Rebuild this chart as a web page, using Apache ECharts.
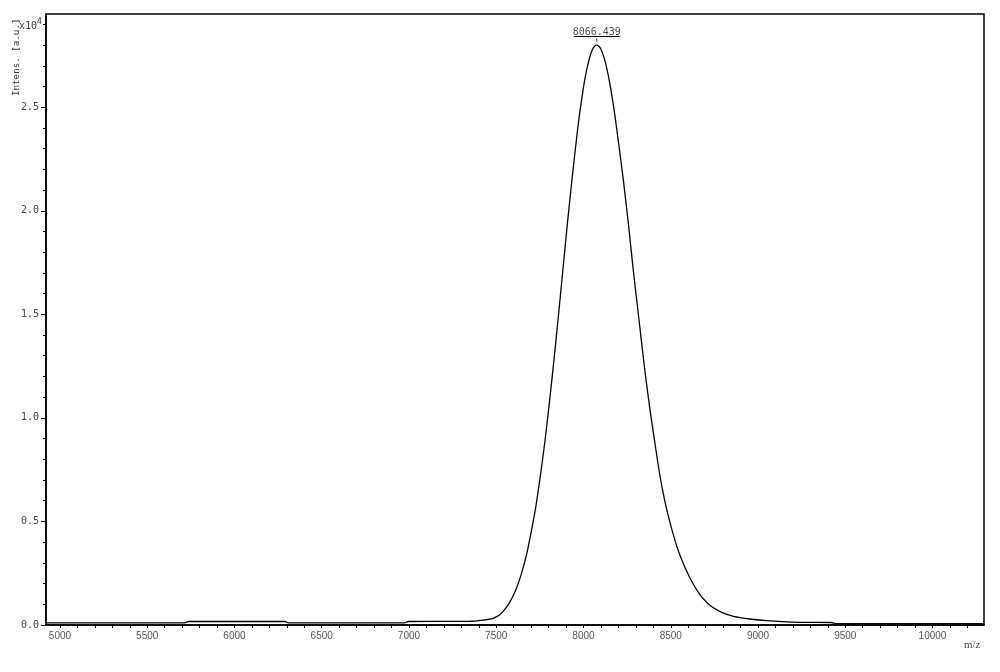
<!DOCTYPE html>
<html>
<head>
<meta charset="utf-8">
<script src="https://cdn.jsdelivr.net/npm/echarts@6/dist/echarts.min.js"></script>
<style>
html,body{margin:0;padding:0;background:#fff;}
#chart{width:1000px;height:672px;}
</style>
</head>
<body>
<div id="chart"></div>
<script>
// ---- data (m/z in Da, intensity in units of 10^4 a.u.) ----
const mz = [4920, 5715, 5735, 6290, 6310, 6975, 6995, 7350, 7424, 7471, 7492, 7520, 7548, 7576, 7603, 7624, 7651, 7680,
  7724, 7752, 7778, 7800, 7825, 7854, 7882, 7907, 7934, 7966, 7983, 8007, 8029, 8052, 8076,
  8100, 8124, 8147, 8173, 8191, 8228, 8258, 8285, 8318, 8351, 8381, 8409, 8439, 8477, 8528, 8570, 8606, 8641, 8675,
  8711, 8744, 8795, 8859, 8954, 9050, 9140, 9241, 9420, 9445, 10295];
const intensity = [0.010, 0.010, 0.017, 0.017, 0.010, 0.010, 0.017, 0.018, 0.024, 0.030, 0.036, 0.050, 0.074, 0.108, 0.152, 0.195, 0.267, 0.364,
  0.557, 0.716, 0.880, 1.040, 1.233, 1.474, 1.715, 1.932, 2.150, 2.391, 2.500, 2.632, 2.720, 2.780, 2.800,
  2.780, 2.720, 2.632, 2.500, 2.391, 2.150, 1.932, 1.715, 1.474, 1.233, 1.040, 0.880, 0.716, 0.557, 0.398, 0.300, 0.234, 0.180, 0.138,
  0.105, 0.083, 0.060, 0.042, 0.029, 0.021, 0.016, 0.013, 0.012, 0.007, 0.007];
const peakLabel = '8066.439';
const peakMz = 8076;
const peakIntensity = 2.80;

const xRange = [4920, 10295];
const yRange = [0, 2.95];
const xLabelValues = [5000, 5500, 6000, 6500, 7000, 7500, 8000, 8500, 9000, 9500, 10000];
const yLabelValues = [0, 0.5, 1.0, 1.5, 2.0, 2.5];
const xTickStep = 100;
const yMinorStep = 0.1;

// ---- derived tick positions ----
const xTickValues = [];
for (let v = 5000; v <= xRange[1]; v += xTickStep) xTickValues.push(v);
const yMinorValues = [];
for (let i = 0; i * yMinorStep <= yRange[1] + 1e-9; i++) yMinorValues.push(Math.round(i * yMinorStep * 10) / 10);

const spectrum = mz.map((m, i) => [m, intensity[i]]);

const chart = echarts.init(document.getElementById('chart'), null, {renderer: 'canvas'});
const option = {
  animation: false,
  backgroundColor: '#fff',
  grid: {left: 46, top: 14, right: 16, bottom: 47, show: true, borderColor: '#000', borderWidth: 1.5, backgroundColor: 'transparent'},
  xAxis: [{
    type: 'value', min: xRange[0], max: xRange[1],
    axisLine: {show: true, onZero: false, lineStyle: {color: '#000', width: 1.5}},
    axisTick: {show: true, customValues: xTickValues, length: 3, inside: false, lineStyle: {color: '#000', width: 1}},
    axisLabel: {show: true, customValues: xLabelValues, margin: 6, color: '#555', fontSize: 10,
      fontFamily: 'Liberation Sans', formatter: v => String(v)},
    splitLine: {show: false}
  }],
  yAxis: [{
    type: 'value', min: yRange[0], max: yRange[1],
    axisLine: {show: true, onZero: false, lineStyle: {color: '#000', width: 1.5}},
    axisTick: {show: true, customValues: yMinorValues, length: 3, lineStyle: {color: '#000', width: 1}},
    axisLabel: {show: true, customValues: yLabelValues, margin: 7, color: '#444', fontSize: 10,
      fontFamily: 'DejaVu Sans Mono', formatter: v => v.toFixed(1)},
    splitLine: {show: false}
  }, {
    type: 'value', min: yRange[0], max: yRange[1], position: 'left',
    axisLine: {show: false},
    axisTick: {show: true, customValues: yLabelValues, length: 5, lineStyle: {color: '#000', width: 1}},
    axisLabel: {show: false},
    splitLine: {show: false}
  }],
  series: [{
    type: 'line',
    data: spectrum,
    xAxisIndex: 0, yAxisIndex: 0,
    symbol: 'none',
    smooth: 0.3,
    lineStyle: {color: '#000', width: 1.3},
    silent: true
  }, {
    type: 'scatter',
    xAxisIndex: 0, yAxisIndex: 0,
    data: [[peakMz, peakIntensity]],
    symbol: 'rect',
    symbolSize: [1, 3],
    symbolOffset: [0, -5],
    itemStyle: {color: '#000'},
    label: {show: true, position: 'top', distance: 1, formatter: peakLabel,
      fontFamily: 'DejaVu Sans Mono', fontSize: 10, color: '#222'},
    markLine: {
      silent: true, symbol: 'none', animation: false,
      label: {show: false},
      lineStyle: {color: '#000', width: 1, type: 'solid'},
      data: [[{coord: [7944, 2.842]}, {coord: [8207, 2.842]}]]
    },
    silent: true
  }],
  graphic: [{
    type: 'text', x: 12, y: 96, rotation: Math.PI / 2,
    style: {text: 'Intens. [a.u.]', fontFamily: 'DejaVu Sans Mono', fontSize: 9.2, fill: '#333', textVerticalAlign: 'top'},
    originX: 0, originY: 0
  }, {
    type: 'text', x: 19, y: 18,
    style: {
      text: '{a|x10}{b|4}',
      rich: {a: {fontFamily: 'DejaVu Sans Mono', fontSize: 10, fill: '#333', verticalAlign: 'bottom'},
             b: {fontFamily: 'DejaVu Sans Mono', fontSize: 8, fill: '#333', verticalAlign: 'top', padding: [0,0,5,0]}}
    }
  }, {
    type: 'text', x: 964, y: 640,
    style: {text: 'm/z', fontFamily: 'Liberation Serif', fontSize: 11, fill: '#444'}
  }]
};
chart.setOption(option);
</script>
</body>
</html>
